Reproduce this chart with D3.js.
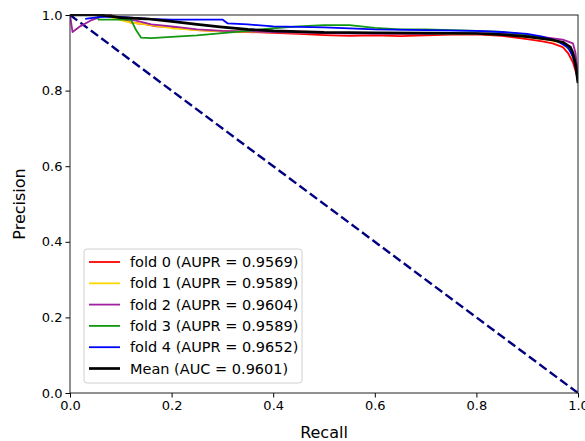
<!DOCTYPE html>
<html>
<head>
<meta charset="utf-8">
<script src="https://cdn.jsdelivr.net/npm/d3@7"></script>
<style>
  body { margin: 0; background: #fff; }
  svg { display: block; font-family: "DejaVu Sans", sans-serif; }
</style>
</head>
<body>
<svg id="chart" width="585" height="441"></svg>
<script>
const width = 585,
  height = 441;
const margin = { left: 70, right: 7, top: 15, bottom: 48 };

// PR curves per fold, [recall, precision]
const fold0 = [[0.08, 1.0], [0.1, 0.99], [0.12, 0.98], [0.15, 0.975], [0.17, 0.97], [0.2, 0.968], [0.25, 0.96], [0.3, 0.957], [0.35, 0.955], [0.4, 0.953], [0.45, 0.95], [0.5, 0.947], [0.55, 0.945], [0.6, 0.946], [0.65, 0.944], [0.7, 0.946], [0.75, 0.948], [0.8, 0.949], [0.85, 0.945], [0.9, 0.936], [0.93, 0.93], [0.95, 0.925], [0.97, 0.915], [0.98, 0.9], [0.99, 0.875], [1.0, 0.83]];
const fold1 = [[0.07, 1.0], [0.09, 0.99], [0.12, 0.98], [0.15, 0.975], [0.2, 0.965], [0.25, 0.96], [0.3, 0.957], [0.4, 0.955], [0.5, 0.953], [0.6, 0.951], [0.7, 0.951], [0.8, 0.95], [0.85, 0.948], [0.9, 0.942], [0.94, 0.935], [0.97, 0.925], [0.985, 0.91], [0.995, 0.88], [1.0, 0.84]];
const fold2 = [[0.0, 1.0], [0.005, 0.955], [0.02, 0.97], [0.04, 0.985], [0.06, 0.995], [0.08, 1.0], [0.1, 0.99], [0.13, 0.985], [0.16, 0.975], [0.2, 0.97], [0.25, 0.962], [0.3, 0.958], [0.4, 0.955], [0.5, 0.952], [0.6, 0.95], [0.7, 0.95], [0.8, 0.952], [0.85, 0.951], [0.9, 0.947], [0.94, 0.94], [0.97, 0.935], [0.99, 0.925], [0.995, 0.9], [1.0, 0.84]];
const fold3 = [[0.055, 1.0], [0.056, 0.988], [0.12, 0.988], [0.13, 0.96], [0.14, 0.94], [0.16, 0.939], [0.2, 0.942], [0.25, 0.946], [0.3, 0.952], [0.35, 0.958], [0.4, 0.965], [0.45, 0.97], [0.5, 0.973], [0.55, 0.973], [0.6, 0.966], [0.65, 0.962], [0.7, 0.962], [0.75, 0.96], [0.8, 0.958], [0.85, 0.955], [0.9, 0.948], [0.95, 0.935], [0.97, 0.925], [0.985, 0.905], [0.995, 0.87], [1.0, 0.82]];
const fold4 = [[0.03, 0.99], [0.06, 0.995], [0.1, 0.995], [0.15, 0.99], [0.2, 0.988], [0.3, 0.988], [0.31, 0.978], [0.35, 0.975], [0.4, 0.97], [0.5, 0.967], [0.6, 0.962], [0.7, 0.96], [0.8, 0.958], [0.85, 0.955], [0.9, 0.95], [0.93, 0.943], [0.96, 0.93], [0.98, 0.915], [0.99, 0.89], [1.0, 0.84]];
const meanCurve = [[0.0, 1.0], [0.06, 1.0], [0.1, 0.993], [0.15, 0.99], [0.2, 0.983], [0.25, 0.975], [0.3, 0.968], [0.35, 0.962], [0.4, 0.958], [0.5, 0.954], [0.6, 0.953], [0.7, 0.952], [0.8, 0.951], [0.85, 0.948], [0.9, 0.943], [0.95, 0.934], [0.97, 0.928], [0.985, 0.915], [0.99, 0.9], [0.995, 0.87], [1.0, 0.82]];
const chance = [[0, 1], [1, 0]];

const labels = ["fold 0 (AUPR = 0.9569)", "fold 1 (AUPR = 0.9589)", "fold 2 (AUPR = 0.9604)", "fold 3 (AUPR = 0.9589)", "fold 4 (AUPR = 0.9652)", "Mean (AUC = 0.9601)"];
const colors = ["#ff0000", "#ffd700", "#a0209f", "#119911", "#0000ff", "#000000"];
const curves = [fold0, fold1, fold2, fold3, fold4, meanCurve];
const ticks = [0, 0.2, 0.4, 0.6, 0.8, 1.0];

const svg = d3.select("#chart");

const x = d3.scaleLinear().domain([0, 1]).range([margin.left, width - margin.right]);
const y = d3.scaleLinear().domain([0, 1]).range([height - margin.bottom, margin.top]);

const line = d3.line()
  .x((d) => x(d[0]))
  .y((d) => y(d[1]));

// clip to the axes area
svg.append("clipPath").attr("id", "clip")
  .append("rect")
  .attr("x", x(0)).attr("y", y(1) - 1)
  .attr("width", x(1) - x(0)).attr("height", y(0) - y(1) + 2);

const plot = svg.append("g").attr("clip-path", "url(#clip)");

// chance line
plot.append("path")
  .datum(chance)
  .attr("d", line)
  .attr("fill", "none")
  .attr("stroke", "#000080")
  .attr("stroke-width", 2.4)
  .attr("stroke-dasharray", "9,4");

curves.forEach((c, i) => {
  plot.append("path")
    .datum(c)
    .attr("d", line)
    .attr("fill", "none")
    .attr("stroke", colors[i])
    .attr("stroke-width", i === 5 ? 2.7 : 1.8)
    .attr("stroke-linejoin", "round");
});

// axes
const xAxis = svg.append("g")
  .attr("transform", `translate(0,${y(0)})`)
  .call(d3.axisBottom(x).tickValues(ticks).tickFormat(d3.format(".1f")).tickSizeOuter(0).tickSize(4.5).tickPadding(3));
const yAxis = svg.append("g")
  .attr("transform", `translate(${x(0)},0)`)
  .call(d3.axisLeft(y).tickValues(ticks).tickFormat(d3.format(".1f")).tickSizeOuter(0).tickSize(4.5).tickPadding(3));

[xAxis, yAxis].forEach((g) => {
  g.select(".domain").remove();
  g.selectAll("text").attr("font-size", 13).attr("fill", "#000").attr("font-family", "DejaVu Sans");
  g.selectAll("line").attr("stroke", "#000");
});

// frame
svg.append("rect")
  .attr("x", x(0)).attr("y", y(1))
  .attr("width", x(1) - x(0)).attr("height", y(0) - y(1))
  .attr("fill", "none")
  .attr("stroke", "#222")
  .attr("stroke-width", 1);

svg.append("text")
  .attr("x", (x(0) + x(1)) / 2)
  .attr("y", 438)
  .attr("text-anchor", "middle")
  .attr("font-size", 16)
  .text("Recall");

svg.append("text")
  .attr("transform", `translate(25,${(y(0) + y(1)) / 2}) rotate(-90)`)
  .attr("text-anchor", "middle")
  .attr("font-size", 16)
  .text("Precision");

// legend
const legend = svg.append("g").attr("transform", "translate(84,249)");
legend.append("rect")
  .attr("width", 218).attr("height", 134)
  .attr("rx", 3)
  .attr("fill", "#fff").attr("fill-opacity", 0.85)
  .attr("stroke", "#d0d0d0");

labels.forEach((lab, i) => {
  const row = legend.append("g").attr("transform", `translate(0,${13 + i * 21.3})`);
  row.append("line")
    .attr("x1", 5).attr("x2", 36)
    .attr("stroke", colors[i])
    .attr("stroke-width", i === 5 ? 2.7 : 1.8);
  row.append("text")
    .attr("x", 46).attr("dy", "0.35em")
    .attr("font-size", 14.5)
    .text(lab);
});
</script>
</body>
</html>
